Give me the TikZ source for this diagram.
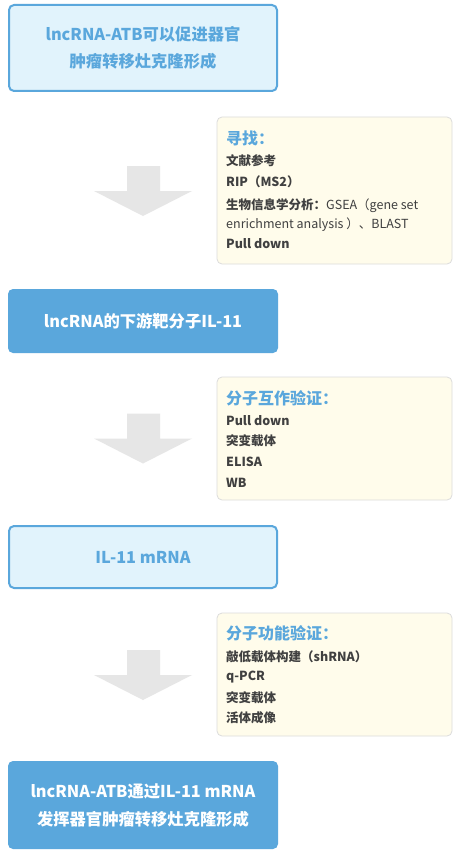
\documentclass[tikz,border=0pt]{standalone}
\usepackage{fontspec}
\setmainfont{Noto Sans CJK SC}
\definecolor{boxblue}{HTML}{5AA7DC}
\definecolor{lightfill}{HTML}{E1F3FC}
\definecolor{notefill}{HTML}{FFFCEB}
\definecolor{notegray}{HTML}{DCDCDC}
\definecolor{arrowgray}{HTML}{E6E6E6}
\definecolor{darktext}{HTML}{404040}
\begin{document}
\begin{tikzpicture}[x=1pt,y=-1pt,
  lightbox/.style={draw=boxblue, line width=2pt, fill=lightfill, rounded corners=5pt,
    minimum width=268pt, text=boxblue, align=center,
    font=\fontsize{16.3}{27}\selectfont\bfseries},
  darkbox/.style={fill=boxblue, rounded corners=5pt, minimum width=270pt,
    text=white, align=center, font=\fontsize{16.3}{28}\selectfont\bfseries},
  notebox/.style={draw=notegray, line width=0.8pt, fill=notefill, rounded corners=5pt,
    minimum width=235pt},
  notetitle/.style={anchor=west, inner sep=0pt, text=boxblue,
    font=\fontsize{16}{18}\selectfont\bfseries, text height=12.5pt, text depth=3pt},
  noteline/.style={anchor=west, inner sep=0pt, text=darktext,
    font=\fontsize{12.5}{14}\selectfont\bfseries, text height=10pt, text depth=2.5pt},
  bigarrow/.style={fill=arrowgray}
]
\useasboundingbox (0,0) rectangle (465,856);
\fill[white] (0,0) rectangle (465,856);

% main boxes
\node[lightbox, minimum height=86pt] (b1) at (143,48) {lncRNA-ATB可以促进器官\\肿瘤转移灶克隆形成};
\node[darkbox, minimum height=64pt] (b2) at (143,321) {lncRNA的下游靶分子IL-11};
\node[lightbox, minimum height=62pt] (b3) at (143,557) {IL-11 mRNA};
\node[darkbox, minimum height=88pt] (b4) at (143,805) {lncRNA-ATB通过IL-11 mRNA\\发挥器官肿瘤转移灶克隆形成};

% note boxes
\node[notebox, minimum height=147pt] (n1) at (334.5,190.5) {};
\node[notebox, minimum height=123pt] (n2) at (334.5,438.5) {};
\node[notebox, minimum height=123pt] (n3) at (334.5,674.5) {};

% note 1 text
\node[notetitle] (t1) at (226,140) {寻找：};
\node[noteline] (t1a) at (226,162) {文献参考};
\node[noteline] (t1b) at (226,183) {RIP（MS2）};
\node[noteline] (t1c) at (226,205.5) {生物信息学分析：{\mdseries GSEA（gene set}};
\node[noteline, font=\fontsize{12.5}{14}\selectfont] (t1d) at (226,224.5) {enrichment analysis ）、BLAST};
\node[noteline] (t1e) at (226,245) {Pull down};

% note 2 text
\node[notetitle] (t2) at (226,400) {分子互作验证：};
\node[noteline] (t2a) at (226,421.5) {Pull down};
\node[noteline] (t2b) at (226,442) {突变载体};
\node[noteline] (t2c) at (226,462.5) {ELISA};
\node[noteline] (t2d) at (226,483.3) {WB};

% note 3 text
\node[notetitle] (t3) at (226,634.5) {分子功能验证：};
\node[noteline] (t3a) at (226,657.3) {敲低载体构建（shRNA）};
\node[noteline] (t3b) at (226,677) {q-PCR};
\node[noteline] (t3c) at (226,698.3) {突变载体};
\node[noteline] (t3d) at (226,718.3) {活体成像};

% block arrows
\foreach \dy in {0,247.5,484} {
  \fill[arrowgray] (127,166+\dy) -- (160,166+\dy) -- (160,191+\dy) -- (192,191+\dy)
    -- (143,216+\dy) -- (94,191+\dy) -- (127,191+\dy) -- cycle;
}
\end{tikzpicture}
\end{document}
